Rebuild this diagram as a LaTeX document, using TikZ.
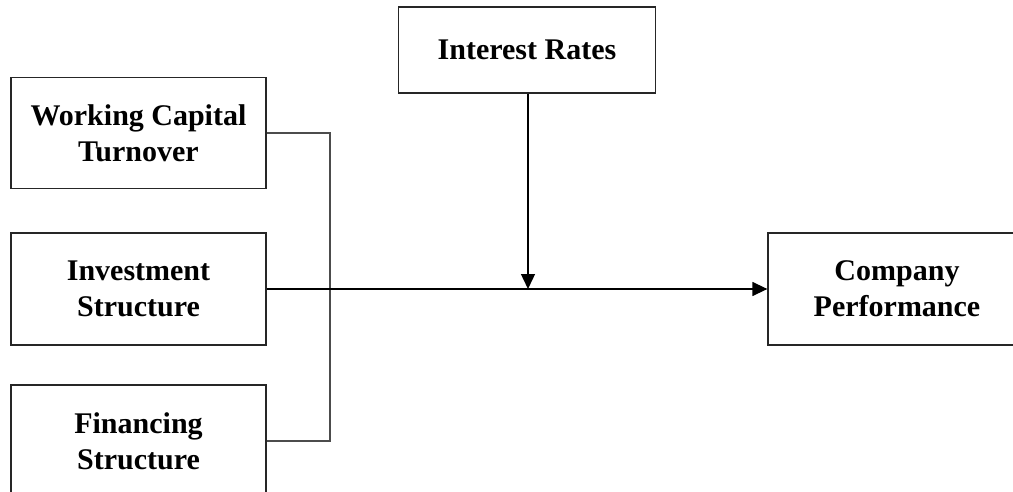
\documentclass[tikz,border=0pt]{standalone}
\usepackage{fontspec}
\setmainfont{Liberation Serif}
\usetikzlibrary{arrows.meta}
\begin{document}
\begin{tikzpicture}[x=1pt,y=-1pt,
  box/.style={draw=black!85, line width=1.3pt, align=center, inner sep=0pt,
    font=\fontsize{30}{36}\selectfont\bfseries},
  link/.style={draw=black, line width=1.4pt},
  joint/.style={draw=black!70, line width=1.2pt},
  arr/.style={-{Triangle[length=15pt,width=14pt]}}]
\useasboundingbox (0,0) rectangle (1013,492);
\fill[white] (0,0) rectangle (1013,492);
\node[box, minimum width=255pt, minimum height=111pt] (wc) at (138.5,133) {Working Capital\\Turnover};
\node[box, minimum width=255pt, minimum height=112pt] (inv) at (138.5,289) {Investment\\Structure};
\node[box, minimum width=255pt, minimum height=112pt] (fin) at (138.5,441) {Financing\\Structure};
\node[box, minimum width=257pt, minimum height=86pt] (ir) at (527,50) {Interest Rates};
\node[box, minimum width=258pt, minimum height=112pt] (cp) at (897,289) {Company\\Performance};
\coordinate (jx) at (330,0);
\coordinate (m) at (528,289);
\draw[joint] (wc.east) -- (wc.east -| jx) -- (fin.east -| jx) -- (fin.east);
\draw[link, arr] (inv.east) -- (cp.west);
\draw[link, arr] (ir.south -| m) -- (m);
\end{tikzpicture}
\end{document}
